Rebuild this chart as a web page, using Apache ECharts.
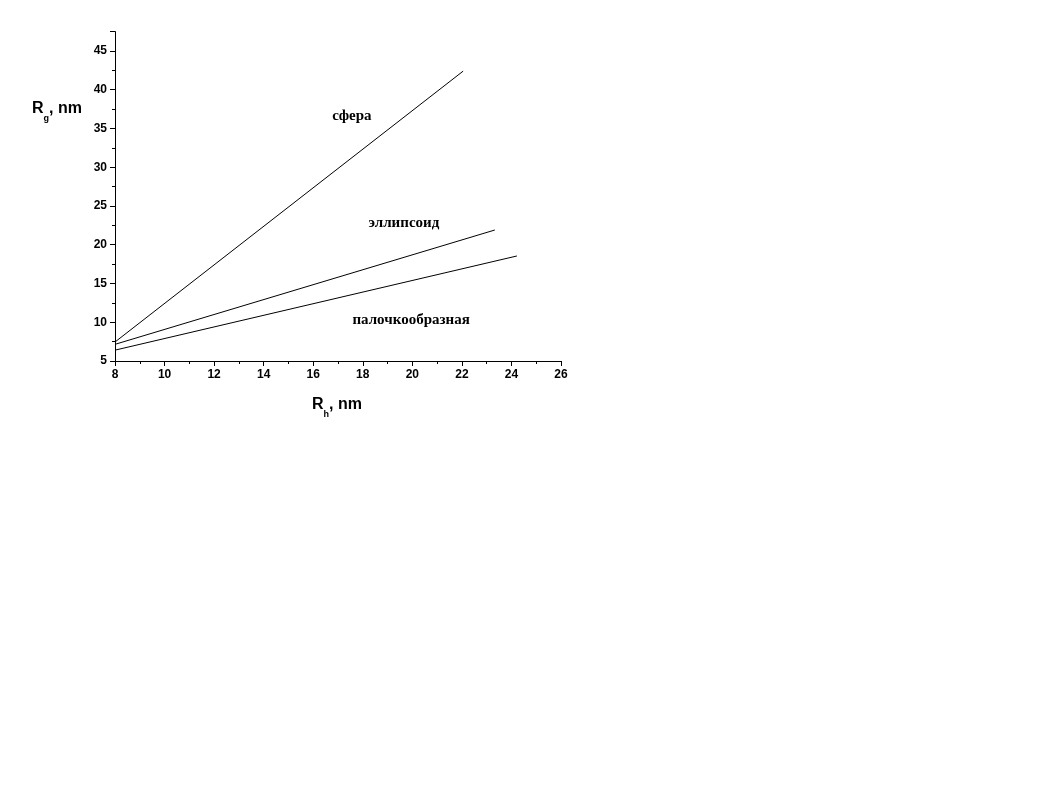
<!DOCTYPE html>
<html>
<head>
<meta charset="utf-8">
<script src="https://cdn.jsdelivr.net/npm/echarts@6/dist/echarts.min.js"></script>
<style>html,body{margin:0;padding:0;background:#fff}#c{width:1060px;height:795px}</style>
</head>
<body>
<div id="c"></div>
<script>
// Data
const sphere = [[8, 7.45], [22.05, 42.4]];
const ellipsoid = [[8, 7.15], [23.33, 21.9]];
const rod = [[8, 6.4], [24.22, 18.55]];
const curveLabels = [
  { name: 'сфера', value: [17.56, 36.6] },
  { name: 'эллипсоид', value: [19.66, 22.8] },
  { name: 'палочкообразная', value: [19.95, 10.3] }
];
const xRange = [8, 26];
const yRange = [5, 47.5];

const chart = echarts.init(document.getElementById('c'), null, { renderer: 'canvas' });
const lineStyle = { color: '#000', width: 1 };
const axisFont = { fontFamily: 'Liberation Sans', fontWeight: 'bold', fontSize: 12, color: '#000' };
const titleRich = {
  m: { fontFamily: 'Liberation Sans', fontWeight: 'bold', fontSize: 16, color: '#000' },
  s: { fontFamily: 'Liberation Sans', fontWeight: 'bold', fontSize: 9, color: '#000', verticalAlign: 'bottom', padding: [0, 0, -6, 0] }
};
chart.setOption({
  animation: false,
  grid: { left: 115, right: 499, top: 31.6, bottom: 434, containLabel: false },
  xAxis: {
    type: 'value', min: xRange[0], max: xRange[1], interval: 2,
    axisLine: { show: true, lineStyle: { color: '#000', width: 1 } },
    axisTick: { show: true, length: 5, lineStyle: { color: '#000' } },
    minorTick: { show: true, splitNumber: 2, length: 3, lineStyle: { color: '#000' } },
    splitLine: { show: false },
    axisLabel: Object.assign({ margin: 8 }, axisFont)
  },
  yAxis: {
    type: 'value', min: yRange[0], max: yRange[1], interval: 5,
    axisLine: { show: true, lineStyle: { color: '#000', width: 1 } },
    axisTick: { show: true, length: 5, lineStyle: { color: '#000' } },
    minorTick: { show: true, splitNumber: 2, length: 3, lineStyle: { color: '#000' } },
    splitLine: { show: false },
    axisLabel: Object.assign({ margin: 8, showMaxLabel: false }, axisFont)
  },
  graphic: [
    { type: 'text', left: 32, top: 101, style: { text: '{m|R}{s|g}{m|, nm}', rich: titleRich } },
    { type: 'text', left: 312, top: 397, style: { text: '{m|R}{s|h}{m|, nm}', rich: titleRich } }
  ],
  series: [
    { type: 'line', data: sphere, symbol: 'none', lineStyle: lineStyle, silent: true },
    { type: 'line', data: ellipsoid, symbol: 'none', lineStyle: lineStyle, silent: true },
    { type: 'line', data: rod, symbol: 'none', lineStyle: lineStyle, silent: true },
    {
      type: 'scatter', data: curveLabels, symbolSize: 0, silent: true,
      itemStyle: { color: '#000', opacity: 1 },
      label: {
        show: true, position: 'inside', formatter: '{b}', opacity: 1,
        fontFamily: 'Liberation Serif', fontWeight: 'bold', fontSize: 15, color: '#000'
      }
    }
  ]
});
</script>
</body>
</html>
